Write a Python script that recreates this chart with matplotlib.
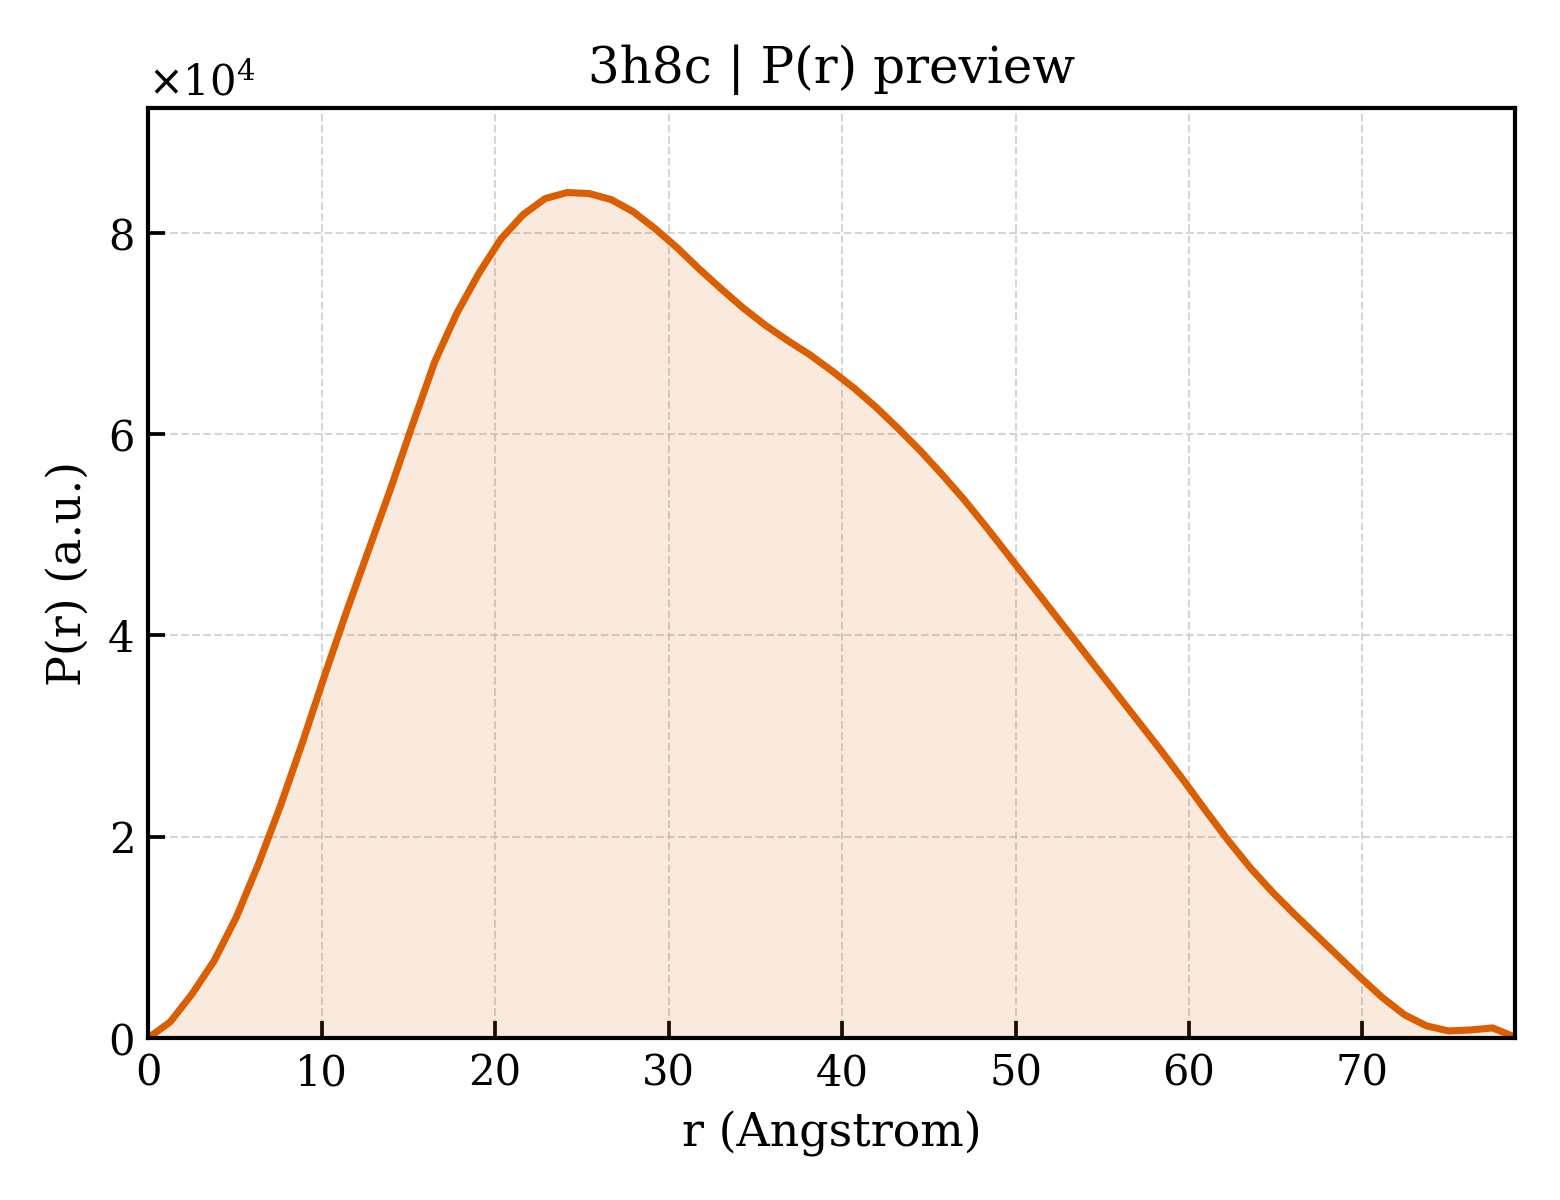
import numpy as np
import matplotlib
matplotlib.use("Agg")
import matplotlib.pyplot as plt

# P(r) curve
r = [0.00, 1.27, 2.54, 3.81, 5.08, 6.36, 7.63, 8.90, 10.17, 11.44,
     12.71, 13.98, 15.25, 16.52, 17.79, 19.07, 20.34, 21.61, 22.88, 24.15,
     25.42, 26.69, 27.96, 29.23, 30.50, 31.77, 33.05, 34.32, 35.59, 36.86,
     38.13, 39.40, 40.67, 41.94, 43.21, 44.48, 45.76, 47.03, 48.30, 49.57,
     50.84, 52.11, 53.38, 54.65, 55.92, 57.19, 58.46, 59.73, 61.00, 62.27,
     63.54, 64.81, 66.08, 67.35, 68.62, 69.89, 71.16, 72.43, 73.70, 74.97,
     76.24, 77.51, 78.78]
pr = [0, 1600, 4400, 7700, 12000, 17300, 23100, 29400, 36000, 42400,
      48500, 54600, 61000, 67200, 72000, 76000, 79400, 81800, 83400, 84000,
      83900, 83300, 82100, 80400, 78500, 76400, 74400, 72500, 70800, 69300,
      67900, 66300, 64600, 62700, 60600, 58400, 56000, 53500, 50800, 48000,
      45200, 42400, 39600, 36800, 34000, 31200, 28400, 25500, 22500, 19600,
      16900, 14500, 12300, 10200, 8100, 6000, 4000, 2300, 1200, 700,
      800, 1000, 100]
title = "3h8c | P(r) preview"

plt.rcParams["font.family"] = ["DejaVu Serif"]
plt.rcParams["xtick.direction"] = "in"
plt.rcParams["ytick.direction"] = "in"

r = np.array(r)
pr = np.array(pr, dtype=float)
col = "#D95F02"

fig, ax = plt.subplots(figsize=(5.2, 4), dpi=300)
fig.subplots_adjust(left=0.095, right=0.971, bottom=0.135, top=0.91)

ax.fill_between(r, pr, 0, color=col, alpha=0.13, lw=0)
ax.plot(r, pr, color=col, lw=1.7)

ax.set_xlim(0, r.max())
ax.set_ylim(0, pr.max() * 1.1)
ax.set_xticks(range(0, 80, 10))
ax.ticklabel_format(axis="y", style="sci", scilimits=(0, 0), useMathText=True)
ax.tick_params(labelsize=10, length=4, width=0.9)
ax.yaxis.get_offset_text().set_fontsize(10)
for s in ax.spines.values():
    s.set_linewidth(1.0)

ax.grid(True, ls="--", lw=0.5, color="#cccccc", alpha=0.8)
ax.set_axisbelow(True)

ax.set_xlabel("r (Angstrom)", fontsize=11)
ax.set_ylabel("P(r) (a.u.)", fontsize=11)
ax.set_title(title, fontsize=12)

plt.savefig("out.png", dpi=300)
